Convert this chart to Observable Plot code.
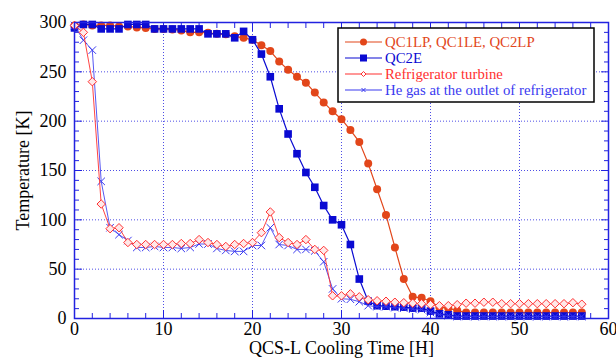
<!DOCTYPE html>
<html><head><meta charset="utf-8">
<script src="https://cdn.jsdelivr.net/npm/d3@7"></script>
<script src="https://cdn.jsdelivr.net/npm/@observablehq/plot@0.6"></script>
<style>
body{margin:0;background:#fff;}
#wrap{position:relative;width:616px;height:360px;}
#legend{position:absolute;left:0;top:0;}
</style></head>
<body><div id="wrap"></div>
<script>
const hours = [0,1,2,3,4,5,6,7,8,9,10,11,12,13,14,15,16,17,18,19,20,21,22,23,24,25,26,27,28,29,30,31,32,33,34,35,36,37,38,39,40,41,42,43,44,45,46,47,48,49,50,51,52,53,54,55,56,57];
const qc1lp = [297,298,297,297,297,296,296,295,294.5,293.5,293.5,293,292,290,290,289.5,288.5,288,286,284.5,282.5,277,271,260.5,252,245,239,229,219,210,202,191,179,157,131,105,72,40,22,21,17.5,11.5,10.5,8,6,6,6,6,6,6,6,6,6,6,6,6,6,6];
const qc2e = [294.5,298,298,293.5,293.5,293.5,298,298,298,293.5,293.5,293.5,293.5,293.5,293.5,288.5,288.5,288.5,284.5,291,282.5,268,245,212.5,187,167,148,133,114.5,100,95,75,40,17.5,13,12.5,12,11.5,10.5,10.5,7.5,4.7,3.7,2.5,2.5,2.5,2.5,2.5,2.5,2.5,2.5,2.5,2.5,2.5,2.5,2.5,2.5,2.5];
const turbine = [297,290,240,116,91,92,77,75,75,75,75,75,76,76,80,77,75,73,75,76,77,87,108,82,77,75,80,70,69,23,23,25,22,19,18,17.5,16.5,16,15.5,15,14,13,13,14,15.5,15.5,16.5,16.5,15,15,15,15,15,15,15,15,16,14.5];
const heGas = [297,282,272,139,92,85,79,72,72,73,72,72,71,72,75.5,75.5,71,69,68,68,74,74,92,75,74,70,70,68.5,57.5,30,20,19.5,17,13,12,12,11,10.5,9.5,9,6,4,3,2,2,2,2,2,2,2,2,2,2,2,2,2,2,2];

const seriesNames = ["QC1LP, QC1LE, QC2LP","QC2E","Refrigerator turbine","He gas at the outlet of refrigerator"];
const xMajor = [0,10,20,30,40,50,60];
const xMinor = [2,4,6,8,12,14,16,18,22,24,26,28,32,34,36,38,42,44,46,48,52,54,56,58];
const yMajor = [0,50,100,150,200,250,300];
const yMinor = [10,20,30,40,60,70,80,90,110,120,130,140,160,170,180,190,210,220,230,240,260,270,280,290];
const xGrid = [10,20,30,40,50];
const yGrid = [50,100,150,200,250];

const C_OR = "#e2461a", C_BL = "#0a0ad2", C_RD = "#ff3030", C_XB = "#3a3af0", C_AX = "#2222e0";
const FONT = "'Liberation Serif', 'DejaVu Serif', serif";

const rows = (vals) => hours.map((h,i)=>({h, v: vals[i]}));
const A = rows(qc1lp), B = rows(qc2e), R = rows(turbine), X = rows(heGas);

const tickMarks = (anchor, ticks, size) => (anchor==="bottom"||anchor==="top")
  ? Plot.axisX({anchor, ticks, tickSize: -size, text: null, label: null, stroke: C_AX})
  : Plot.axisY({anchor, ticks, tickSize: -size, text: null, label: null, stroke: C_AX});

const chart = Plot.plot({
  width: 616, height: 360,
  marginLeft: 74, marginRight: 8, marginTop: 22, marginBottom: 42,
  style: {fontFamily: FONT, fontSize: "18px", color: "#000", background: "#fff"},
  x: {domain: [0,60]},
  y: {domain: [0,300]},
  marks: [
    Plot.gridX(xGrid, {stroke: C_AX, strokeOpacity: 0.8, strokeDasharray: "1,2"}),
    Plot.gridY(yGrid, {stroke: C_AX, strokeOpacity: 0.8, strokeDasharray: "1,2"}),
    Plot.axisX({ticks: xMajor, tickSize: 0, tickPadding: 4, fontSize: 18, label: "QCS-L Cooling Time [H]", labelAnchor: "center", labelArrow: "none", labelOffset: 35}),
    Plot.axisY({ticks: yMajor, tickSize: 0, tickPadding: 8, fontSize: 18, label: "Temperature [K]", labelAnchor: "center", labelArrow: "none", labelOffset: 58}),
    tickMarks("bottom", xMajor, 8), tickMarks("bottom", xMinor, 5),
    tickMarks("top", xMajor, 8), tickMarks("top", xMinor, 5),
    tickMarks("left", yMajor, 8), tickMarks("left", yMinor, 5),
    tickMarks("right", yMajor, 8), tickMarks("right", yMinor, 5),
    Plot.line(A, {x: "h", y: "v", stroke: C_OR, strokeWidth: 1.2}),
    Plot.dot(A, {x: "h", y: "v", r: 4, fill: C_OR, stroke: "none"}),
    Plot.line(B, {x: "h", y: "v", stroke: C_BL, strokeWidth: 1.2}),
    Plot.dot(B, {x: "h", y: "v", symbol: "square", r: 4.3, fill: C_BL, stroke: "none"}),
    Plot.line(X, {x: "h", y: "v", stroke: C_XB, strokeWidth: 1, strokeOpacity: 0.85}),
    Plot.dot(X, {x: "h", y: "v", symbol: "times", r: 3.5, stroke: C_XB, strokeWidth: 1}),
    Plot.line(R, {x: "h", y: "v", stroke: C_RD, strokeWidth: 1, strokeOpacity: 0.9}),
    Plot.dot(R, {x: "h", y: "v", symbol: "diamond2", r: 3.8, stroke: C_RD, fill: "#ffe8e8", strokeWidth: 1}),
    Plot.frame({stroke: C_AX, strokeWidth: 1.5})
  ]
});
document.getElementById("wrap").append(chart);

// legend as an overlay SVG
const lg = d3.select("#wrap").append("svg").attr("id", "legend")
  .attr("width", 616).attr("height", 360).style("pointer-events", "none");
const bx = 338, by = 28, bw = 256, bh = 74;
lg.append("rect").attr("x", bx).attr("y", by).attr("width", bw).attr("height", bh)
  .attr("fill", "#fff").attr("stroke", "#000").attr("stroke-width", 1.5);
const specs = [
  {color: C_OR, marker: "circle"},
  {color: C_BL, marker: "square"},
  {color: C_RD, marker: "diamond"},
  {color: C_XB, marker: "times"}
];
specs.forEach((s, i) => {
  const cy = by + 14 + i * 16;
  const g = lg.append("g").attr("transform", `translate(${bx + 7},${cy})`);
  g.append("line").attr("x1", 0).attr("x2", 37).attr("y1", 0).attr("y2", 0).attr("stroke", s.color).attr("stroke-width", 1.2);
  if (s.marker === "circle") g.append("circle").attr("cx", 18.5).attr("cy", 0).attr("r", 3.5).attr("fill", s.color);
  if (s.marker === "square") g.append("rect").attr("x", 15).attr("y", -3.5).attr("width", 7).attr("height", 7).attr("fill", s.color);
  if (s.marker === "diamond") g.append("path").attr("d", "M18.5,-2.5L21,0L18.5,2.5L16,0Z").attr("fill", "#fff").attr("stroke", s.color);
  if (s.marker === "times") g.append("path").attr("d", "M16.5,-2L20.5,2M20.5,-2L16.5,2").attr("stroke", s.color);
  g.append("text").attr("x", 40).attr("y", 0).attr("dy", "0.35em")
    .attr("font-family", FONT).attr("font-size", 14.8).attr("fill", s.color).text(seriesNames[i]);
});
</script></body></html>
